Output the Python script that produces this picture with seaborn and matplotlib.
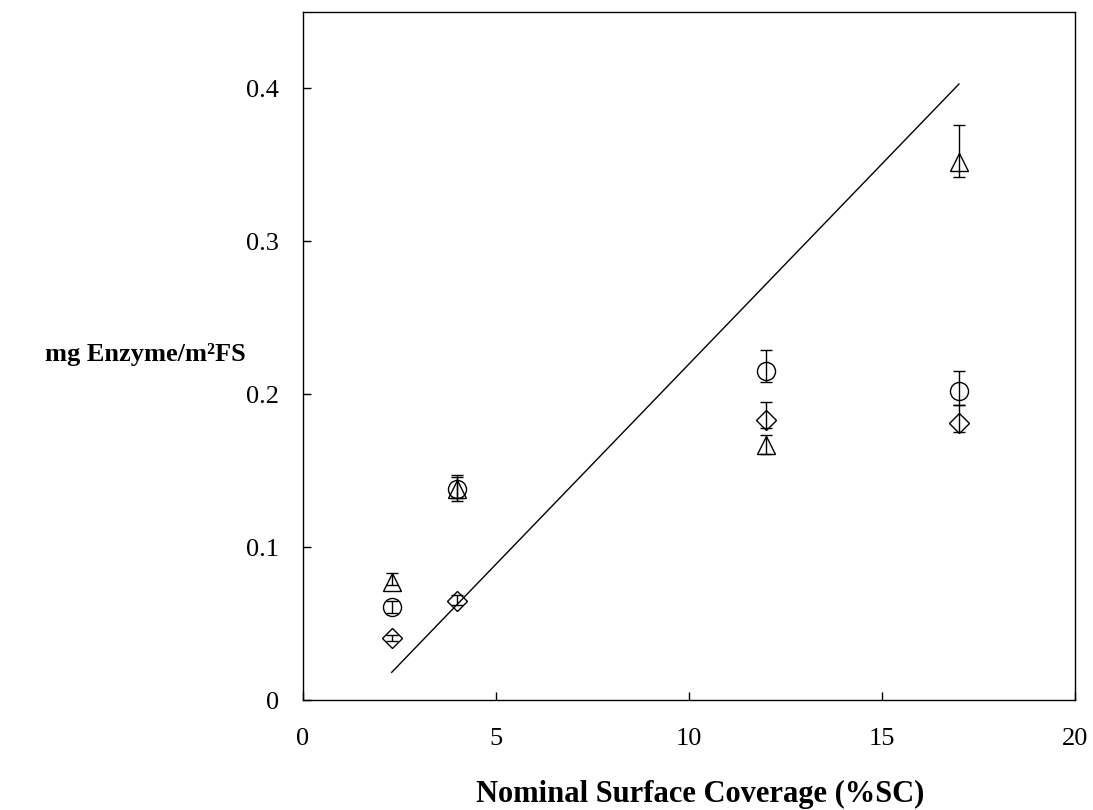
# plot.py
# Enzyme loading vs nominal surface coverage, three series with error bars
# and a reference line. Saves out.png.

import numpy as np
import pandas as pd
import matplotlib
matplotlib.use("Agg")
import matplotlib.pyplot as plt
import seaborn as sns

# Data
coverage = [2.3, 4.0, 12.0, 17.0]

tri_y = [0.077, 0.138, 0.167, 0.352]
tri_lo = [0.002, 0.006, 0.006, 0.010]
tri_hi = [0.006, 0.008, 0.006, 0.024]

circ_y = [0.061, 0.138, 0.215, 0.202]
circ_lo = [0.004, 0.008, 0.007, 0.009]
circ_hi = [0.004, 0.009, 0.014, 0.013]

diam_y = [0.0405, 0.065, 0.183, 0.181]
diam_lo = [0.002, 0.003, 0.005, 0.006]
diam_hi = [0.002, 0.004, 0.012, 0.012]

trend_x = [2.3, 17.0]
trend_y = [0.018, 0.403]

x_ticks = [0, 5, 10, 15, 20]
y_ticks = [0, 0.1, 0.2, 0.3, 0.4]
y_tick_labels = ["0", "0.1", "0.2", "0.3", "0.4"]

sns.set_style("ticks")
plt.rcParams["font.family"] = ["Liberation Serif", "DejaVu Serif"]
plt.rcParams["text.color"] = "black"

fig = plt.figure(figsize=(10.93, 8.10), dpi=100)
ax = fig.add_axes([0.277, 0.1358, 0.7065, 0.8494])

# reference line
sns.lineplot(x=trend_x, y=trend_y, ax=ax, color="black", linewidth=1.0)

series = [
    ("tri", tri_y, tri_lo, tri_hi, "^"),
    ("circ", circ_y, circ_lo, circ_hi, "o"),
    ("diam", diam_y, diam_lo, diam_hi, "D"),
]
sizes = {"^": 13, "o": 13, "D": 10}

for name, ys, lo, hi, mk in series:
    ax.errorbar(coverage, ys, yerr=[lo, hi], fmt="none", ecolor="black",
                elinewidth=1.0, capsize=4, capthick=1.0, zorder=3)
    df = pd.DataFrame({"x": coverage, "y": ys})
    ax.plot(df["x"], df["y"], linestyle="none", marker=mk, markersize=sizes[mk],
            markerfacecolor="none", markeredgecolor="black",
            markeredgewidth=1.0, zorder=4)

ax.set_xlim(0, 20)
ax.set_ylim(0, 0.45)
ax.set_xticks(x_ticks)
ax.set_yticks(y_ticks)
ax.set_yticklabels(y_tick_labels)
ax.tick_params(direction="in", length=6, width=1.0, labelsize=19,
               colors="black", labelcolor="black")
ax.tick_params(axis="x", pad=20)
ax.tick_params(axis="y", pad=17)
for side in ["top", "right", "bottom", "left"]:
    ax.spines[side].set_visible(True)
    ax.spines[side].set_linewidth(1.0)
    ax.spines[side].set_color("black")

ax.set_xlabel("")
ax.set_ylabel("")
fig.text(0.641, 0.019, "Nominal Surface Coverage (%SC)", ha="center", va="center",
         fontsize=22, fontweight="bold", color="black")
fig.text(0.133, 0.562, "mg Enzyme/m\u00b2FS", ha="center", va="center",
         fontsize=19, fontweight="bold", color="black")

fig.savefig("out.png", dpi=100)
